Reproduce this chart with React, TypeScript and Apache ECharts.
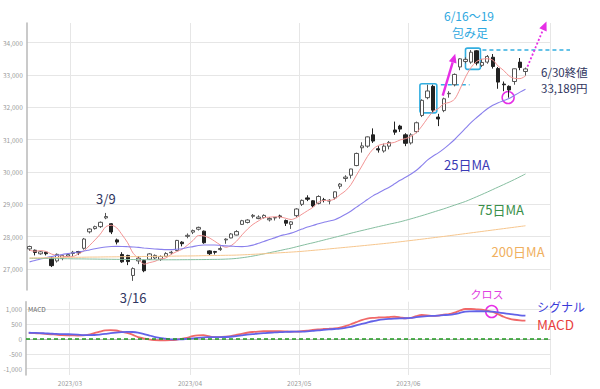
import React, { useEffect, useRef } from "react";
import * as echarts from "echarts";

const FONT = '"Noto Sans CJK JP", "Noto Sans", sans-serif';

const dates = [
  "2023/02/16", "2023/02/17", "2023/02/20", "2023/02/21", "2023/02/22", "2023/02/24", "2023/02/27", "2023/02/28",
  "2023/03/01", "2023/03/02", "2023/03/03", "2023/03/06", "2023/03/07", "2023/03/08", "2023/03/09", "2023/03/10",
  "2023/03/13", "2023/03/14", "2023/03/15", "2023/03/16", "2023/03/17", "2023/03/20", "2023/03/22", "2023/03/23",
  "2023/03/24", "2023/03/27", "2023/03/28", "2023/03/29", "2023/03/30", "2023/03/31",
  "2023/04/03", "2023/04/04", "2023/04/05", "2023/04/06", "2023/04/07", "2023/04/10", "2023/04/11", "2023/04/12",
  "2023/04/13", "2023/04/14", "2023/04/17", "2023/04/18", "2023/04/19", "2023/04/20", "2023/04/21", "2023/04/24",
  "2023/04/25", "2023/04/26", "2023/04/27", "2023/04/28",
  "2023/05/01", "2023/05/02", "2023/05/08", "2023/05/09", "2023/05/10", "2023/05/11", "2023/05/12", "2023/05/15",
  "2023/05/16", "2023/05/17", "2023/05/18", "2023/05/19", "2023/05/22", "2023/05/23", "2023/05/24", "2023/05/25",
  "2023/05/26", "2023/05/29", "2023/05/30", "2023/05/31",
  "2023/06/01", "2023/06/02", "2023/06/05", "2023/06/06", "2023/06/07", "2023/06/08", "2023/06/09", "2023/06/12",
  "2023/06/13", "2023/06/14", "2023/06/15", "2023/06/16", "2023/06/19", "2023/06/20", "2023/06/21", "2023/06/22",
  "2023/06/23", "2023/06/26", "2023/06/27", "2023/06/28", "2023/06/29", "2023/06/30",
];
const blankDates = ["2023/07/03", "2023/07/04", "2023/07/05", "2023/07/06"];

const open = [
  27620, 27580, 27470, 27520, 27360, 27250, 27330, 27400,
  27480, 27540, 27640, 28150, 28250, 28310, 28580, 28400, 27900, 27450, 27420, 26800, 27250, 27260, 27300, 27340, 27300, 27390, 27500, 27570, 27830, 28010,
  28140, 28230, 28170, 27560, 27540, 27600, 27900, 27960, 28050, 28380, 28440, 28630, 28560, 28590, 28520, 28580, 28640, 28500, 28380, 28650,
  29000, 29200, 29110, 29030, 29140, 29100, 29200, 29560, 29800, 29900, 30200, 30750, 30800, 31150, 30720, 30650, 30800, 31300, 31420, 31150,
  30900, 31250, 31750, 32300, 32650, 31700, 31900, 32420, 32700, 33250, 33420, 33400, 33750, 33300, 33400, 33550, 33200, 32720, 32650, 32800, 33400, 33110,
];
const high = [
  27720, 27600, 27560, 27540, 27380, 27480, 27450, 27480,
  27560, 27560, 27960, 28260, 28340, 28470, 28734, 28420, 27940, 27520, 27440, 27050, 27400, 27290, 27490, 27450, 27420, 27520, 27560, 27900, 27860, 28100,
  28220, 28310, 28190, 27580, 27560, 27700, 27950, 28110, 28200, 28520, 28540, 28700, 28660, 28690, 28610, 28600, 28680, 28530, 28480, 28880,
  29150, 29280, 29130, 29280, 29200, 29160, 29400, 29660, 29900, 30100, 30600, 30920, 31100, 31350, 30800, 30880, 30960, 31560, 31460, 31200,
  31200, 31560, 32250, 32700, 32700, 31800, 32300, 32500, 33050, 33520, 33550, 33772, 33772, 33500, 33620, 33650, 33250, 32800, 32680, 33200, 33527, 33230,
];
const low = [
  27560, 27420, 27440, 27420, 27060, 27200, 27270, 27380,
  27400, 27430, 27600, 28100, 28220, 28270, 28540, 28080, 27760, 27190, 27120, 26632, 27150, 26900, 27280, 27300, 27250, 27370, 27450, 27550, 27700, 27950,
  28080, 28190, 27780, 27430, 27450, 27560, 27780, 27950, 28040, 28360, 28410, 28570, 28540, 28560, 28470, 28500, 28560, 28330, 28240, 28600,
  28950, 29100, 28900, 29000, 29060, 29000, 29150, 29480, 29700, 29800, 30180, 30600, 30750, 30900, 30600, 30600, 30700, 31150, 31240, 30800,
  30850, 31200, 31700, 32250, 31830, 31420, 31850, 32300, 32650, 33150, 33360, 33350, 33300, 33250, 33350, 33200, 32575, 32500, 32300, 32700, 33150, 32980,
];
const close = [
  27696, 27513, 27532, 27473, 27104, 27453, 27424, 27446,
  27517, 27499, 27927, 28238, 28309, 28444, 28623, 28144, 27833, 27222, 27229, 27011, 27334, 26946, 27467, 27420, 27385, 27477, 27518, 27884, 27783, 28041,
  28188, 28287, 27813, 27473, 27518, 27634, 27923, 28083, 28157, 28493, 28515, 28659, 28607, 28658, 28564, 28594, 28620, 28416, 28458, 28856,
  29123, 29158, 28950, 29243, 29122, 29127, 29388, 29626, 29843, 30094, 30574, 30808, 31087, 30958, 30683, 30801, 30916, 31234, 31328, 30888,
  31148, 31524, 32217, 32507, 31914, 31641, 32265, 32434, 33019, 33502, 33485, 33706, 33370, 33389, 33575, 33265, 32782, 32699, 32538, 33194, 33234, 33189,
];

const ma5 = [
  27579, 27548, 27569, 27543, 27464, 27415, 27397, 27380, 27389, 27468,
  27563, 27725, 27898, 28083, 28308, 28352, 28271, 28053, 27810, 27488,
  27326, 27148, 27197, 27236, 27310, 27339, 27453, 27537, 27609, 27741,
  27883, 28037, 28022, 27960, 27856, 27745, 27672, 27726, 27863, 28058,
  28234, 28381, 28486, 28586, 28601, 28616, 28609, 28570, 28530, 28589,
  28695, 28802, 28909, 29066, 29119, 29120, 29166, 29301, 29421, 29616,
  29905, 30189, 30481, 30704, 30822, 30867, 30889, 30918, 30992, 31033,
  31103, 31224, 31421, 31657, 31862, 31961, 32109, 32152, 32255, 32572,
  32941, 33229, 33416, 33490, 33505, 33461, 33276, 33142, 32972, 32896,
  32889, 32971,
];
const ma25 = [
  27220, 27265, 27310, 27350, 27385, 27420, 27450, 27475, 27500, 27525,
  27555, 27590, 27625, 27655, 27680, 27695, 27700, 27698, 27690, 27680,
  27668, 27650, 27635, 27620, 27608, 27599, 27599, 27613, 27625, 27663,
  27692, 27727, 27742, 27740, 27741, 27729, 27716, 27707, 27696, 27691,
  27705, 27738, 27794, 27851, 27913, 27963, 28030, 28068, 28110, 28169,
  28235, 28300, 28343, 28401, 28444, 28482, 28526, 28599, 28693, 28796,
  28914, 29029, 29150, 29262, 29349, 29441, 29531, 29636, 29743, 29836,
  29938, 30054, 30206, 30368, 30490, 30591, 30715, 30855, 31006, 31181,
  31355, 31528, 31678, 31820, 31959, 32067, 32146, 32210, 32273, 32374,
  32471, 32562,
];
const ma75 = [
  27330, 27329, 27326, 27325, 27321, 27320, 27318, 27317, 27314, 27312,
  27311, 27308, 27307, 27304, 27303, 27300, 27298, 27297, 27294, 27292,
  27290, 27289, 27286, 27285, 27284, 27284, 27285, 27285, 27287, 27288,
  27289, 27291, 27292, 27295, 27297, 27300, 27306, 27314, 27328, 27348,
  27372, 27400, 27433, 27468, 27503, 27538, 27573, 27610, 27645, 27688,
  27730, 27772, 27810, 27852, 27895, 27938, 27980, 28022, 28065, 28108,
  28150, 28190, 28230, 28270, 28310, 28348, 28386, 28422, 28460, 28505,
  28552, 28600, 28650, 28702, 28755, 28808, 28860, 28918, 28975, 29032,
  29090, 29160, 29232, 29305, 29380, 29458, 29535, 29612, 29690, 29770,
  29855, 29940,
];
const ma200 = [
  27340, 27343, 27345, 27349, 27352, 27354, 27357, 27359, 27362, 27363,
  27365, 27368, 27369, 27371, 27374, 27375, 27377, 27380, 27381, 27383,
  27385, 27388, 27389, 27391, 27393, 27396, 27397, 27399, 27402, 27403,
  27405, 27408, 27412, 27414, 27417, 27420, 27424, 27426, 27430, 27437,
  27445, 27454, 27463, 27472, 27482, 27492, 27502, 27512, 27523, 27534,
  27546, 27561, 27576, 27591, 27606, 27622, 27638, 27654, 27670, 27686,
  27702, 27718, 27735, 27752, 27769, 27786, 27804, 27822, 27842, 27862,
  27882, 27902, 27923, 27944, 27965, 27986, 28007, 28029, 28051, 28073,
  28095, 28117, 28139, 28161, 28183, 28205, 28227, 28249, 28271, 28293,
  28315, 28337,
];
const macd = [
  200, 195, 185, 170, 155, 140, 125, 118, 115, 112,
  115, 140, 190, 240, 285, 295, 280, 240, 200, 140,
  60, 20, -20, -45, -50, -50, -45, -30, 0, 35,
  90, 120, 125, 90, 55, 60, 75, 95, 130, 170,
  205, 230, 245, 255, 258, 260, 258, 250, 240, 245,
  255, 275, 300, 318, 330, 340, 352, 380, 430, 490,
  560, 630, 680, 705, 715, 720, 730, 740, 720, 690,
  700, 760, 800, 790, 770, 780, 815, 830, 880, 950,
  1000, 1000, 990, 980, 950, 900, 830, 740, 680, 640,
  620, 610,
];
const signal = [
  205, 200, 195, 185, 175, 165, 160, 155, 150, 140,
  128, 125, 130, 145, 165, 190, 210, 225, 235, 230,
  210, 170, 120, 70, 35, 10, -15, -20, -15, 0,
  15, 35, 50, 55, 55, 58, 62, 70, 90, 115,
  140, 160, 175, 190, 205, 215, 225, 232, 238, 240,
  242, 250, 265, 285, 300, 315, 330, 345, 370, 400,
  450, 500, 545, 590, 630, 655, 670, 680, 688, 690,
  700, 725, 745, 760, 770, 780, 795, 805, 830, 870,
  910, 920, 925, 925, 922, 910, 885, 860, 835, 810,
  790, 775,
];

const priceTicks = [27000, 28000, 29000, 30000, 31000, 32000, 33000, 34000];
const macdTicks = [-1000, -500, 0, 500, 1000];

const GRID_LINE = "#e6e6e6";
const AXIS_LINE = "#b8b8b8";
const LABEL = "#9a9a9a";
const MAG = "#e62ee6";
const CYAN = "#33aee0";

export default function App() {
  const ref = useRef<HTMLDivElement>(null);

  useEffect(() => {
    if (!ref.current) return;
    const chart = echarts.init(ref.current, undefined, { renderer: "svg" });
    const cats = [...dates, ...blankDates];
    const monthStarts = new Set<number>();
    cats.forEach((d, i) => {
      if (i > 0 && d.slice(0, 7) !== cats[i - 1].slice(0, 7) && i < dates.length) monthStarts.add(i);
    });
    const monthInterval = (i: number) => monthStarts.has(i);
    const candles = dates.map((_, i) => [open[i], close[i], low[i], high[i]]);
    const fmt = (v: number) => v.toLocaleString("en-US");

    const lineSeries = (name: string, data: number[], color: string, width: number, xi = 0) => ({
      name,
      type: "line",
      xAxisIndex: xi,
      yAxisIndex: xi,
      data,
      showSymbol: false,
      symbol: "none",
      smooth: 0.3,
      lineStyle: { color, width },
      z: 3,
      silent: true,
    });

    const option: any = {
      animation: false,
      backgroundColor: "#ffffff",
      textStyle: { fontFamily: FONT },
      grid: [
        { left: 26, right: 50, top: 23, height: 267 },
        { left: 26, right: 50, top: 301.7, height: 73.3 },
      ],
      xAxis: [
        {
          type: "category",
          gridIndex: 0,
          data: cats,
          boundaryGap: true,
          axisLine: { show: false },
          axisTick: { show: false },
          axisLabel: { show: false },
          splitLine: { show: true, interval: monthInterval, lineStyle: { color: GRID_LINE, width: 1 } },
        },
        {
          type: "category",
          gridIndex: 1,
          data: cats,
          boundaryGap: true,
          axisLine: { show: true, lineStyle: { color: AXIS_LINE, width: 1 } },
          axisTick: { show: false },
          axisLabel: {
            interval: monthInterval,
            formatter: (v: string) => v.slice(0, 7),
            fontSize: 6.5,
            color: LABEL,
            margin: 5,
            padding: [0, 5, 0, 0],
          },
          splitLine: { show: true, interval: monthInterval, lineStyle: { color: GRID_LINE, width: 1 } },
        },
      ],
      yAxis: [
        {
          type: "value",
          gridIndex: 0,
          min: 26350,
          max: 34610,
          axisLine: { show: true, lineStyle: { color: AXIS_LINE, width: 1.5 } },
          axisTick: { show: false, customValues: priceTicks },
          axisLabel: { customValues: priceTicks, formatter: fmt, fontSize: 6.5, color: LABEL, margin: 4 },
          splitLine: { show: true, lineStyle: { color: GRID_LINE, width: 1 } },
        },
        {
          type: "value",
          gridIndex: 1,
          min: -1211,
          max: 1245,
          axisLine: { show: true, lineStyle: { color: AXIS_LINE, width: 1.5 } },
          axisTick: { show: false, customValues: macdTicks },
          axisLabel: { customValues: macdTicks, formatter: fmt, fontSize: 6.5, color: LABEL, margin: 4 },
          splitLine: { show: true, lineStyle: { color: GRID_LINE, width: 1 } },
        },
      ],
      series: [
        {
          name: "日経平均",
          type: "candlestick",
          xAxisIndex: 0,
          yAxisIndex: 0,
          data: candles,
          barWidth: "70%",
          itemStyle: {
            color: "#ffffff",
            color0: "#222222",
            borderColor: "#555555",
            borderColor0: "#222222",
            borderWidth: 1,
          },
          z: 2,
          silent: true,
        },
        lineSeries("5日MA", ma5, "#f29494", 1),
        lineSeries("25日MA", ma25, "#8a80ec", 1.1),
        lineSeries("75日MA", ma75, "#86bea0", 1),
        lineSeries("200日MA", ma200, "#f6c68e", 1),
        {
          ...lineSeries("MACD", macd, "#f06868", 1.8, 1),
          markLine: {
            silent: true,
            symbol: "none",
            label: { show: false },
            lineStyle: { color: "#1f9a1f", width: 1.5, type: [4, 3] },
            data: [{ yAxis: 0 }],
          },
        },
        lineSeries("シグナル", signal, "#6262e8", 1.8, 1),
      ],
    };
    chart.setOption(option);

    const idx = (d: string) => dates.indexOf(d);
    const P = (i: number, v: number) => chart.convertToPixel({ gridIndex: 0 } as any, [i, v]) as number[];
    const Q = (i: number, v: number) => chart.convertToPixel({ gridIndex: 1 } as any, [i, v]) as number[];

    const arrow = (x1: number, y1: number, x2: number, y2: number, dotted: boolean) => {
      const ang = Math.atan2(y2 - y1, x2 - x1);
      const len = 9;
      const half = 4;
      const bx = x2 - len * Math.cos(ang);
      const by = y2 - len * Math.sin(ang);
      const ox = -Math.sin(ang) * half;
      const oy = Math.cos(ang) * half;
      return [
        {
          type: "line",
          shape: { x1, y1, x2: bx, y2: by },
          style: { stroke: MAG, lineWidth: dotted ? 1.8 : 2.4, lineDash: dotted ? [2, 2] : undefined },
          silent: true,
        },
        {
          type: "polygon",
          shape: { points: [[x2, y2], [bx + ox, by + oy], [bx - ox, by - oy]] },
          style: { fill: MAG },
          silent: true,
        },
      ];
    };
    const text = (t: string, x: number, y: number, size: number, fill: string, align = "center") => ({
      type: "text",
      x,
      y,
      silent: true,
      style: { text: t, fill, fontSize: size, fontFamily: FONT, align, verticalAlign: "middle" },
    });

    const j6 = idx("2023/06/06");
    const j7 = idx("2023/06/07");
    const j9 = idx("2023/06/09");
    const j15 = idx("2023/06/15");
    const j16 = idx("2023/06/16");
    const j19 = idx("2023/06/19");
    const j27 = idx("2023/06/27");
    const j22 = idx("2023/06/22");
    const j30 = idx("2023/06/30");
    const m9 = idx("2023/03/09");
    const m16 = idx("2023/03/16");

    const b1l = P(j6, close[j6])[0] - 7.5;
    const b1r = P(j7, close[j7])[0] + 4;
    const b1t = P(j7, high[j7])[1] - 1;
    const b1b = P(j7, low[j7])[1];
    const b2l = P(j16, close[j16])[0] - 5.5;
    const b2r = P(j19, close[j19])[0] + 4;
    const b2t = P(j16, high[j16])[1] - 2;
    const b2b = P(j19, low[j19])[1] + 4;
    const a1 = P(j9, high[j9]);
    const a2 = P(j30, high[j30]);
    const c1 = P(j27, ma25[j27]);
    const c2 = Q(j22, 915);
    const t9 = P(m9, high[m9]);
    const t16 = P(m16, low[m16]);
    const dashY1 = P(j7, high[j7])[1];
    const dashY2 = P(j16, high[j16])[1];
    const dashEnd1 = P(j15, close[j15])[0] + 4;

    const graphic: any[] = [
      {
        type: "rect",
        shape: { x: b1l, y: b1t, width: b1r - b1l, height: b1b - b1t, r: 2 },
        style: { fill: "none", stroke: CYAN, lineWidth: 1.6 },
        silent: true,
      },
      {
        type: "rect",
        shape: { x: b2l, y: b2t, width: b2r - b2l, height: b2b - b2t, r: 2 },
        style: { fill: "none", stroke: CYAN, lineWidth: 1.6 },
        silent: true,
      },
      {
        type: "line",
        shape: { x1: b1r + 4, y1: dashY1, x2: dashEnd1, y2: dashY1 },
        style: { stroke: CYAN, lineWidth: 1.5, lineDash: [4, 3] },
        silent: true,
      },
      {
        type: "line",
        shape: { x1: b2r + 2, y1: dashY2, x2: 570, y2: dashY2 },
        style: { stroke: CYAN, lineWidth: 1.5, lineDash: [4, 3] },
        silent: true,
      },
      ...arrow(a1[0] - 1, a1[1] - 2, a1[0] + 11.5, a1[1] - 44, false),
      ...arrow(a2[0] + 2, a2[1] - 1, a2[0] + 21, a2[1] - 46, true),
      {
        type: "circle",
        shape: { cx: c1[0] - 1, cy: c1[1] - 1, r: 6 },
        style: { fill: "none", stroke: MAG, lineWidth: 1.5 },
        silent: true,
      },
      {
        type: "circle",
        shape: { cx: c2[0] - 1, cy: c2[1], r: 6 },
        style: { fill: "none", stroke: MAG, lineWidth: 1.5 },
        silent: true,
      },
      text("3/9", t9[0], t9[1] - 14, 13, "#2f3560"),
      text("3/16", t16[0], t16[1] + 17, 13, "#2f3560"),
      text("25日MA", 467, 164, 13, "#3b3bb5"),
      text("75日MA", 501, 209, 13, "#3a8f4a"),
      text("200日MA", 518, 251, 13, "#f0b060"),
      text("6/16～19", 469, 15, 12, "#2ea8e0"),
      text("包み足", 470, 32, 12, "#2ea8e0"),
      text("6/30終値", 541, 72, 11.5, "#2f3560", "left"),
      text("33,189円", 541, 88, 11.5, "#2f3560", "left"),
      text("クロス", 487, 294, 11, "#e040e0"),
      text("シグナル", 537, 306, 12, "#3a3ad8", "left"),
      text("MACD", 537, 324, 13.5, "#e84040", "left"),
      text("MACD", 28, 309, 6.5, "#666666", "left"),
    ];
    chart.setOption({ graphic });

    return () => chart.dispose();
  }, []);

  return (
    <div
      ref={ref}
      style={{ position: "fixed", left: 0, top: 0, width: 600, height: 389, background: "#fff" }}
    />
  );
}
